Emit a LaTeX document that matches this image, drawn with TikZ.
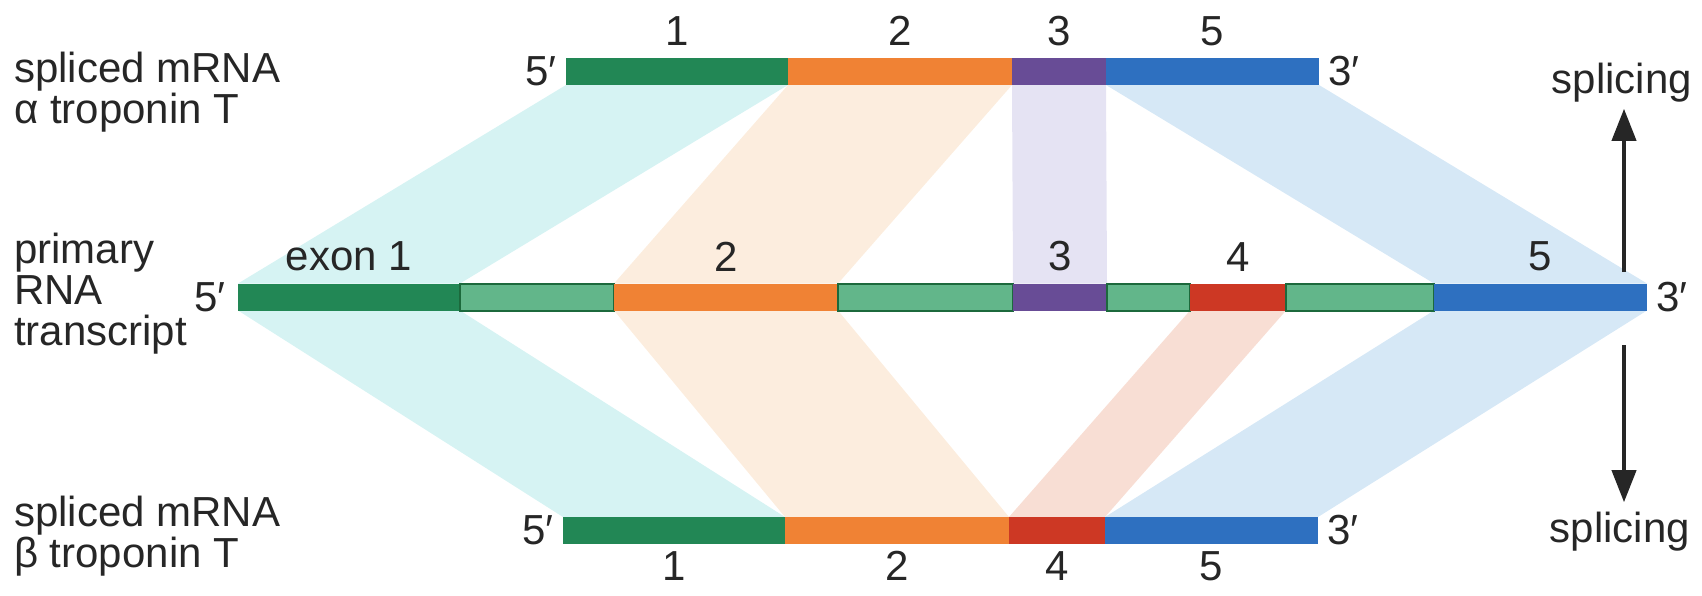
\documentclass[tikz,border=0pt]{standalone}
\usepackage{fontspec}
\setmainfont{Liberation Sans}
\usetikzlibrary{positioning,arrows.meta,backgrounds}
\definecolor{exgreen}{RGB}{34,135,85}
\definecolor{ingreen}{RGB}{98,182,138}
\definecolor{indark}{RGB}{28,105,60}
\definecolor{exorange}{RGB}{240,130,52}
\definecolor{expurple}{RGB}{104,76,150}
\definecolor{exred}{RGB}{205,56,36}
\definecolor{exblue}{RGB}{46,112,192}
\definecolor{bandcyan}{RGB}{214,243,243}
\definecolor{bandpeach}{RGB}{252,237,222}
\definecolor{bandlav}{RGB}{229,227,243}
\definecolor{bandsalmon}{RGB}{248,222,212}
\definecolor{bandblue}{RGB}{214,232,246}
\definecolor{inkgray}{RGB}{38,38,38}
\begin{document}
\begin{tikzpicture}[x=1pt, y=-1pt,
      font=\fontsize{42}{41}\selectfont, text=inkgray,
      seg/.style={rectangle, inner sep=0pt, outer sep=0pt, minimum height=27pt},
      intron/.style={seg, fill=ingreen, draw=indark, line width=2pt},
      lbl/.style={inner sep=0pt},
      arrow/.style={-{Triangle[length=32pt,width=24pt]}, line width=4pt, draw=inkgray}
  ]
  \useasboundingbox (0,0) rectangle (1702,596);

  % alpha troponin T mRNA
  \node[seg, fill=exgreen, minimum width=222pt] (a1) at (677,71.5) {};
  \node[seg, fill=exorange, minimum width=224pt] (a2) at (900,71.5) {};
  \node[seg, fill=expurple, minimum width=94pt] (a3) at (1059,71.5) {};
  \node[seg, fill=exblue, minimum width=213pt] (a5) at (1212.5,71.5) {};

  % primary transcript
  \node[seg, fill=exgreen, minimum width=222pt] (m1) at (349,297) {};
  \node[intron, minimum width=154pt] (i1) at (537,297) {};
  \node[seg, fill=exorange, minimum width=224pt] (m2) at (726,297) {};
  \node[intron, minimum width=175pt] (i2) at (925.5,297) {};
  \node[seg, fill=expurple, minimum width=94pt] (m3) at (1060,297) {};
  \node[intron, minimum width=83pt] (i3) at (1148.5,297) {};
  \node[seg, fill=exred, minimum width=96pt] (m4) at (1238,297) {};
  \node[intron, minimum width=148pt] (i4) at (1360,297) {};
  \node[seg, fill=exblue, minimum width=213pt] (m5) at (1540.5,297) {};

  % beta troponin T mRNA
  \node[seg, fill=exgreen, minimum width=222pt] (b1) at (674,530.5) {};
  \node[seg, fill=exorange, minimum width=224pt] (b2) at (897,530.5) {};
  \node[seg, fill=exred, minimum width=96pt] (b4) at (1057,530.5) {};
  \node[seg, fill=exblue, minimum width=213pt] (b5) at (1211.5,530.5) {};

  % bands between exons
  \begin{scope}[on background layer]
    \fill[bandcyan] (m1.north west) -- (m1.north east) -- (a1.south east) -- (a1.south west) -- cycle;
    \fill[bandcyan] (m1.south west) -- (m1.south east) -- (b1.north east) -- (b1.north west) -- cycle;
    \fill[bandpeach] (m2.north west) -- (m2.north east) -- (a2.south east) -- (a2.south west) -- cycle;
    \fill[bandpeach] (m2.south west) -- (m2.south east) -- (b2.north east) -- (b2.north west) -- cycle;
    \fill[bandlav] (m3.north west) -- (m3.north east) -- (a3.south east) -- (a3.south west) -- cycle;
    \fill[bandsalmon] (m4.south west) -- (m4.south east) -- (b4.north east) -- (b4.north west) -- cycle;
    \fill[bandblue] (m5.north west) -- (m5.north east) -- (a5.south east) -- (a5.south west) -- cycle;
    \fill[bandblue] (m5.south west) -- (m5.south east) -- (b5.north east) -- (b5.north west) -- cycle;
  \end{scope}

  % exon numbers
  \node[lbl, above=12pt of a1] (na1) {1};
  \node[lbl, above=12pt of a2] (na2) {2};
  \node[lbl, above=12pt of a3] (na3) {3};
  \node[lbl, above=12pt of a5] (na5) {5};
  \node[lbl, above=12pt of m1] (nm1) {exon 1};
  \node[lbl, above=12pt of m2] (nm2) {2};
  \node[lbl, above=12pt of m3] (nm3) {3};
  \node[lbl, above=12pt of m4] (nm4) {4};
  \node[lbl, above=12pt of m5] (nm5) {5};
  \node[lbl, below=7pt of b1] (nb1) {1};
  \node[lbl, below=7pt of b2] (nb2) {2};
  \node[lbl, below=7pt of b4] (nb4) {4};
  \node[lbl, below=7pt of b5] (nb5) {5};

  % ends
  \node[lbl, left=9pt of a1] (a5p) {5′};
  \node[lbl, right=9pt of a5] (a3p) {3′};
  \node[lbl, left=12pt of m1] (m5p) {5′};
  \node[lbl, right=9pt of m5] (m3p) {3′};
  \node[lbl, left=9pt of b1] (b5p) {5′};
  \node[lbl, right=9pt of b5] (b3p) {3′};

  % row titles
  \node[lbl, anchor=west, align=left] (alpha) at (14,92) {spliced mRNA\\α troponin T};
  \node[lbl, anchor=west, align=left] (primary) at (14,294) {primary\\RNA\\transcript};
  \node[lbl, anchor=west, align=left] (beta) at (14,536) {spliced mRNA\\β troponin T};

  % splicing arrows
  \node[lbl] (splup) at (1622,83) {splicing};
  \node[lbl] (spldown) at (1620,532) {splicing};
  \coordinate (tailup) at (1624,272);
  \coordinate (taildown) at (1624,345);
  \draw[arrow] (tailup) -- (tailup |- splup.south) [shorten >=6pt];
  \draw[arrow] (taildown) -- (taildown |- spldown.north) [shorten >=10pt];

\end{tikzpicture}
\end{document}
